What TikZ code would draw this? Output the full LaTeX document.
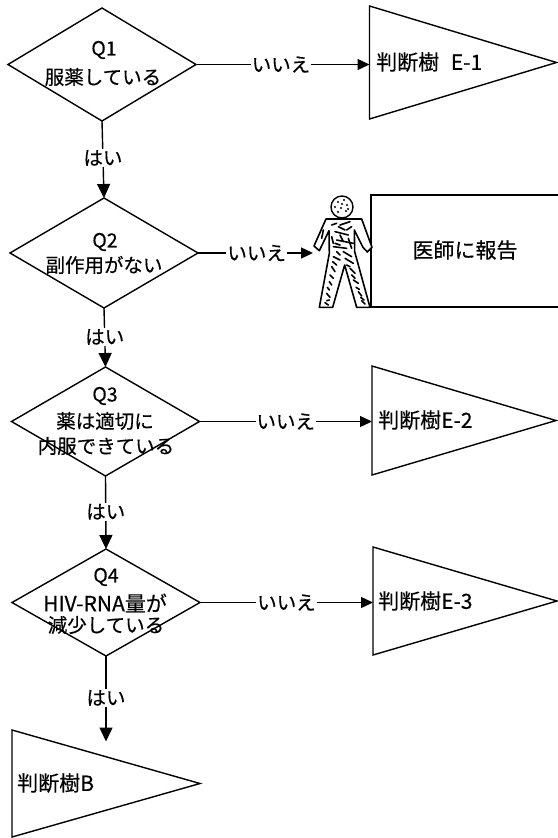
\documentclass[tikz,border=0pt]{standalone}
\usepackage{fontspec}
\setmainfont[FakeBold=0.35]{Noto Sans CJK JP}
\usetikzlibrary{shapes.geometric,arrows.meta}
\tikzset{
  decide/.style={shape=diamond,draw,line width=1.4pt,inner sep=0pt,outer sep=0pt,minimum width=188pt},
  tree/.style={shape=isosceles triangle,isosceles triangle stretches,shape border rotate=0,draw,line width=1.4pt,inner sep=0pt,outer sep=0pt,anchor=lower side},
  txt/.style={font=\fontsize{19.5pt}{22pt}\selectfont,inner sep=0pt,align=center},
  bigtxt/.style={font=\fontsize{21pt}{22pt}\selectfont,inner sep=0pt,align=center},
  lab/.style={font=\fontsize{19.5pt}{22pt}\selectfont,fill=white,inner sep=1pt},
  hflow/.style={line width=1.4pt,-{Triangle[length=12pt,width=11pt]}},
  vflow/.style={line width=1.4pt,-{Triangle[length=14pt,width=13pt]}},
  report/.style={draw,line width=1.4pt,inner sep=0pt,outer sep=0pt,minimum width=190pt,minimum height=112pt},
  person/.style={line width=1.6pt,line join=round,fill=white},
  speck/.style={line width=1.6pt,line cap=round}
}
\begin{document}
\begin{tikzpicture}[x=1pt,y=-1pt]
\useasboundingbox (0,0) rectangle (557,838);
\fill[white] (0,0) rectangle (557,838);
% decisions
\node[decide,minimum height=113pt] (d1) at (102,64.5) {};
\node[decide,minimum height=110pt] (d2) at (104,253) {};
\node[decide,minimum height=109pt] (d3) at (105.5,421.5) {};
\node[decide,minimum height=107pt] (d4) at (106,602.5) {};
% decision texts
\node[txt] (q1a) at (104,50) {Q1};
\node[txt] (q1b) at (103,77) {服薬している};
\node[txt] (q2a) at (105,242) {Q2};
\node[txt] (q2b) at (104,265) {副作用がない};
\node[txt] (q3a) at (105,396) {Q3};
\node[txt] (q3b) at (105,421) {薬は適切に};
\node[txt] (q3c) at (106,446) {内服できている};
\node[txt] (q4a) at (106,577) {Q4};
\node[bigtxt] (q4b) at (105,603) {HIV-RNA量が};
\node[txt] (q4c) at (106,625) {減少している};
% targets
\node[tree,minimum width=113pt,minimum height=187pt] (t1) at (369.5,62.5) {};
\node[tree,minimum width=109pt,minimum height=184pt] (t2) at (372,420.5) {};
\node[tree,minimum width=108pt,minimum height=184pt] (t3) at (373,601) {};
\node[tree,minimum width=107pt,minimum height=188pt] (t4) at (12,783.5) {};
\node[report] (r) at (466,251) {};
\node[bigtxt,anchor=west] (t1x) at (376,62) {判断樹\hspace{7pt} E-1};
\node[bigtxt,anchor=west] (t2x) at (378,420) {判断樹E-2};
\node[bigtxt,anchor=west] (t3x) at (378,601) {判断樹E-3};
\node[bigtxt,anchor=west] (t4x) at (17,783) {判断樹B};
\node[bigtxt] (rx) at (465,250) {医師に報告};
% person
\begin{scope}[shift={(290,210)},scale=1/3]
  \draw[person] (108,27) -- (215,27) -- (246,112) -- (232,126) -- (219,112) -- (193,60) -- (194,125) -- (240,292) -- (200,292) -- (164,165) -- (128,292) -- (88,292) -- (118,130) -- (117,62) -- (88,122) -- (72,108) -- cycle;
  \foreach \a/\b/\c/\d in {150/45/180/35, 135/65/175/75, 140/90/190/100, 130/110/170/115, 160/125/185/140, 130/140/150/150, 165/145/190/160, 125/170/135/185, 180/175/195/190, 118/215/125/225, 190/210/205/220, 110/250/120/262, 205/245/215/258, 105/278/115/285, 215/272/225/282, 125/80/130/100, 170/60/185/50, 100/60/95/85, 145/50/165/60, 125/45/140/40, 150/75/160/95, 175/85/185/115, 135/100/150/105, 140/125/150/135, 128/155/140/165, 170/165/180/170, 120/195/130/205, 185/195/195/205, 112/232/118/240, 198/232/208/238, 110/272/118/270, 212/262/222/270}
    \draw[speck] (\a,\b) -- (\c,\d);
\end{scope}
\node[draw,circle,line width=1.4pt,inner sep=0pt,minimum size=22pt] (head) at (342,207) {};
\foreach \a/\b in {338/202, 344/200, 347/205, 341/208, 346/211, 338/212, 342/204, 335/207, 348/209}
  \fill (\a,\b) circle (1.1pt);
\coordinate (body) at (313,253);
% connectors
\draw[hflow] (d1.east) -- node[lab,pos=.49] (n1) {いいえ} (d1.east -| t1.lower side);
\draw[hflow] (d2.east) -- node[lab,pos=.51] (n2) {いいえ} (d2.east -| body);
\draw[hflow] (d3.east) -- node[lab,pos=.5] (n3) {いいえ} (d3.east -| t2.lower side);
\draw[hflow] (d4.east) -- node[lab,pos=.5] (n4) {いいえ} (d4.east -| t3.lower side);
\draw[vflow] (d1.south) -- node[lab,pos=.48] (y1) {はい} (d2.north);
\draw[vflow] (d2.south) -- node[lab,pos=.49] (y2) {はい} (d3.north);
\draw[vflow] (d3.south) -- node[lab,pos=.49] (y3) {はい} (d4.north);
\draw[vflow] (d4.south) -- node[lab,pos=.49] (y4) {はい} (d4.south |- t4.north);
\end{tikzpicture}
\end{document}
